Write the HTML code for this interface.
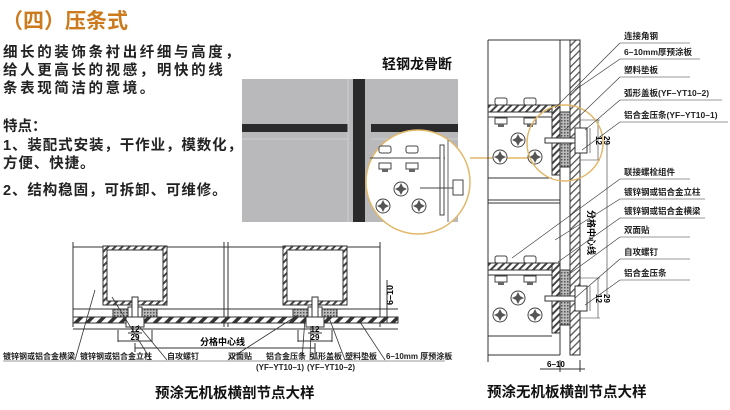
<!DOCTYPE html>
<html><head><meta charset="utf-8"><style>
html,body{margin:0;padding:0;background:#fff;width:730px;height:410px;overflow:hidden}
svg{display:block}
text{font-family:"Liberation Sans","Noto Sans CJK SC",sans-serif}
.b{font-weight:bold}
</style></head><body>
<svg width="730" height="410" viewBox="0 0 730 410" xmlns="http://www.w3.org/2000/svg">
<defs>
<pattern id="h" width="5" height="5" patternUnits="userSpaceOnUse" patternTransform="rotate(45)"><rect width="5" height="5" fill="#fff"/><rect width="2" height="5" fill="#444"/></pattern>
<pattern id="hl" width="5" height="5" patternUnits="userSpaceOnUse" patternTransform="rotate(45)"><rect width="5" height="5" fill="#fff"/><rect width="1.3" height="5" fill="#555"/></pattern>
<pattern id="hb" width="8" height="8" patternUnits="userSpaceOnUse" patternTransform="rotate(45)"><rect width="8" height="8" fill="#fff"/><rect width="3.5" height="8" fill="#333"/></pattern>
<pattern id="d" width="3" height="3" patternUnits="userSpaceOnUse"><rect width="3" height="3" fill="#bbb"/><rect width="1.5" height="1.5" fill="#555"/></pattern>
<g id="cr"><circle r="7" fill="#fff" stroke="#444" stroke-width="1"/><path d="M0,-6 L2,-2 6,0 2,2 0,6 -2,2 -6,0 -2,-2Z" fill="#555"/></g>
<g id="bh"><rect x="-6" y="-7" width="12" height="7" rx="2" fill="#fff" stroke="#444"/></g>
<g id="nut"><rect x="-6" y="0" width="12" height="6" fill="#fff" stroke="#444"/><rect x="-3" y="6" width="6" height="3" fill="#666"/></g>
</defs>

<text x="2" y="28" font-size="21" class="b" fill="#cc7a1c">（四）压条式</text>
<g font-size="14.5" class="b" fill="#222" letter-spacing="2.6">
<text x="3" y="57">细长的装饰条衬出纤细与高度，</text>
<text x="3" y="75">给人更高长的视感，明快的线</text>
<text x="3" y="93">条表现简洁的意境。</text>
<text x="3" y="131" letter-spacing="0">特点：</text>
<text x="3" y="150" letter-spacing="0.9">1、装配式安装，干作业，模数化，</text>
<text x="3" y="168" letter-spacing="0.9">方便、快捷。</text>
<text x="3" y="195" letter-spacing="0.9">2、结构稳固，可拆卸、可维修。</text>
</g>

<text x="382" y="69" font-size="14" class="b" fill="#111">轻钢龙骨断</text>
<rect x="242" y="79" width="216" height="143" fill="#b9b9bb"/>
<rect x="353" y="79" width="12" height="143" fill="#2a2a2a"/>
<rect x="242" y="124" width="106" height="8" fill="#2a2a2a"/>
<rect x="371" y="124" width="87" height="8" fill="#2a2a2a"/>
<line x1="348" y1="79" x2="348" y2="222" stroke="#d0d0d0"/>
<line x1="242" y1="139" x2="348" y2="139" stroke="#d0d0d0"/>
<line x1="371" y1="139" x2="458" y2="139" stroke="#d0d0d0"/>
<circle cx="418" cy="182" r="52" fill="#fff" stroke="#e2b768" stroke-width="1.5"/>
<line x1="370" y1="158" x2="445" y2="158" stroke="#444"/>
<rect x="440" y="145" width="4" height="70" fill="#fff" stroke="#444"/>
<use href="#bh" x="385" y="153"/><use href="#bh" x="412" y="153"/>
<use href="#nut" x="385" y="163"/><use href="#nut" x="412" y="163"/>
<use href="#cr" x="401" y="189"/><use href="#cr" x="383" y="206"/><use href="#cr" x="419" y="206"/>
<line x1="420" y1="188" x2="455" y2="188" stroke="#444"/>
<rect x="453" y="180" width="10" height="15" fill="#fff" stroke="#444"/>
<line x1="448" y1="140" x2="448" y2="222" stroke="#666"/>
<line x1="470" y1="158" x2="528" y2="158" stroke="#e2b768" stroke-width="1.5"/>

<g stroke="#333" stroke-width="1" fill="none">
<line x1="73" y1="242" x2="73" y2="327"/>
<line x1="380" y1="242" x2="380" y2="327"/>
<line x1="224" y1="242" x2="224" y2="327"/><line x1="228" y1="242" x2="228" y2="327"/>
<line x1="73" y1="247" x2="380" y2="247"/>
<line x1="73" y1="309" x2="398" y2="309"/>
<line x1="73" y1="329" x2="398" y2="329"/>
</g>
<rect x="73" y="317" width="325" height="6" fill="url(#hb)" stroke="#333"/>
<rect x="103" y="246" width="64" height="59" fill="url(#h)" stroke="#333"/>
<rect x="107" y="250" width="56" height="51" fill="#fff" stroke="#333"/>
<rect x="283" y="246" width="64" height="59" fill="url(#h)" stroke="#333"/>
<rect x="287" y="250" width="56" height="51" fill="#fff" stroke="#333"/>
<g id="fx">
<rect x="113" y="309" width="15" height="8" fill="url(#d)" stroke="#333"/>
<rect x="142" y="309" width="15" height="8" fill="url(#d)" stroke="#333"/>
<rect x="128" y="307" width="14" height="10" fill="#fff" stroke="#333"/>
<rect x="132" y="297" width="6" height="22" fill="#fff" stroke="#333"/>
<rect x="126" y="317" width="18" height="10" fill="#fff" stroke="#333"/>
<line x1="118" y1="330" x2="118" y2="342" stroke="#333"/><line x1="152" y1="330" x2="152" y2="342" stroke="#333"/>
<line x1="128" y1="333" x2="142" y2="333" stroke="#333"/><line x1="118" y1="341" x2="152" y2="341" stroke="#333"/>
<text x="135" y="332" font-size="8" text-anchor="middle" class="b">12</text>
<text x="135" y="340" font-size="8" text-anchor="middle" class="b">29</text>
</g>
<use href="#fx" x="180"/>
<line x1="135" y1="343" x2="135" y2="352" stroke="#333"/>
<line x1="315" y1="343" x2="315" y2="352" stroke="#333"/>
<line x1="135" y1="348" x2="315" y2="348" stroke="#333"/>
<text x="200" y="345" font-size="9" class="b">分格中心线</text>
<text transform="translate(393,305) rotate(-90)" font-size="9" class="b">6–10</text>
<line x1="387" y1="280" x2="387" y2="323" stroke="#333"/>
<g stroke="#333" stroke-width="0.8">
<line x1="75" y1="360" x2="95" y2="290"/>
<line x1="151" y1="360" x2="112" y2="297"/>
<line x1="167" y1="360" x2="138" y2="325"/>
<line x1="228" y1="360" x2="298" y2="315"/>
<line x1="302" y1="360" x2="305" y2="318"/>
<line x1="310" y1="360" x2="311" y2="326"/>
<line x1="345" y1="360" x2="328" y2="315"/>
<line x1="385" y1="360" x2="360" y2="322"/>
<line x1="3" y1="361" x2="445" y2="361" stroke-width="0.5"/>
</g>
<g font-size="8" class="b" fill="#222">
<text x="3" y="359">镀锌钢或铝合金横梁</text>
<text x="80" y="359">镀锌钢或铝合金立柱</text>
<text x="167" y="359">自攻螺钉</text>
<text x="228" y="359">双面贴</text>
<text x="266" y="359">铝合金压条</text>
<text x="256" y="370">(YF–YT10–1)</text>
<text x="310" y="359">弧形盖板</text>
<text x="307" y="370">(YF–YT10–2)</text>
<text x="345" y="359">塑料垫板</text>
<text x="386" y="359">6–10mm 厚预涂板</text>
</g>
<text x="155" y="398" font-size="14.5" class="b" fill="#111">预涂无机板横剖节点大样</text>

<g stroke="#333" fill="none">
<line x1="488" y1="40" x2="488" y2="355"/>
<line x1="560" y1="40" x2="560" y2="355"/>
<line x1="488" y1="40" x2="570" y2="40"/>
<line x1="488" y1="200" x2="560" y2="200"/>
<line x1="488" y1="203" x2="560" y2="203"/>
<line x1="488" y1="355" x2="560" y2="355"/>
<line x1="488" y1="355" x2="488" y2="362"/>
</g>
<rect x="570" y="40" width="10" height="315" fill="url(#hl)" stroke="#333"/>
<g id="br">
<rect x="488" y="105" width="69" height="7" fill="url(#h)" stroke="#333"/>
<line x1="488" y1="117" x2="552" y2="117" stroke="#333"/>
<line x1="488" y1="178" x2="552" y2="178" stroke="#333"/>
<rect x="552" y="105" width="8" height="70" fill="url(#h)" stroke="#333"/>
<rect x="560" y="112" width="10" height="55" fill="url(#d)" stroke="#333"/>
<use href="#bh" x="501" y="105"/><use href="#bh" x="530" y="105"/>
<use href="#nut" x="501" y="118"/><use href="#nut" x="530" y="118"/>
<use href="#cr" x="518" y="140"/><use href="#cr" x="500" y="157"/><use href="#cr" x="535" y="157"/>
<rect x="545" y="138" width="30" height="5" fill="#fff" stroke="#333"/>
<rect x="575" y="128" width="12" height="25" fill="#fff" stroke="#333"/>
<line x1="580" y1="120" x2="600" y2="120" stroke="#333" stroke-width=".6"/>
<line x1="580" y1="160" x2="600" y2="160" stroke="#333" stroke-width=".6"/>
<line x1="590" y1="128" x2="590" y2="153" stroke="#333" stroke-width=".6"/>
<line x1="598" y1="120" x2="598" y2="160" stroke="#333" stroke-width=".6"/>
<text transform="translate(596,136) rotate(90)" font-size="8" class="b">12</text>
<text transform="translate(604,136) rotate(90)" font-size="8" class="b">29</text>
</g>
<use href="#br" y="158"/>
<line x1="607" y1="140" x2="607" y2="298" stroke="#333" stroke-width=".6"/>
<text transform="translate(588,210) rotate(90)" font-size="9" class="b">分格中心线</text>
<line x1="560" y1="360" x2="560" y2="372" stroke="#333"/><line x1="580" y1="360" x2="580" y2="372" stroke="#333"/>
<line x1="540" y1="369" x2="585" y2="369" stroke="#333"/>
<text x="547" y="367" font-size="8" class="b">6–10</text>
<circle cx="565" cy="143" r="38" fill="none" stroke="#e2b768" stroke-width="1.5"/>
<g font-size="8.5" class="b" fill="#222">
<text x="624" y="39">连接角钢</text>
<text x="624" y="55">6–10mm厚预涂板</text>
<text x="624" y="73">塑料垫板</text>
<text x="624" y="96">弧形盖板(YF–YT10–2)</text>
<text x="624" y="118">铝合金压条(YF–YT10–1)</text>
<text x="624" y="175">联接螺栓组件</text>
<text x="624" y="195">镀锌钢或铝合金立柱</text>
<text x="624" y="214">镀锌钢或铝合金横梁</text>
<text x="624" y="233">双面贴</text>
<text x="624" y="255">自攻螺钉</text>
<text x="624" y="276">铝合金压条</text>
</g>
<g stroke="#333" stroke-width=".6">
<line x1="620" y1="43" x2="690" y2="43"/><line x1="620" y1="43" x2="555" y2="108"/>
<line x1="620" y1="59" x2="700" y2="59"/><line x1="620" y1="59" x2="575" y2="90"/>
<line x1="620" y1="77" x2="690" y2="77"/><line x1="620" y1="77" x2="565" y2="130"/>
<line x1="620" y1="100" x2="722" y2="100"/><line x1="620" y1="100" x2="585" y2="130"/>
<line x1="620" y1="122" x2="728" y2="122"/><line x1="620" y1="122" x2="582" y2="150"/>
<line x1="620" y1="179" x2="690" y2="179"/><line x1="620" y1="179" x2="512" y2="258"/>
<line x1="620" y1="199" x2="705" y2="199"/><line x1="620" y1="199" x2="555" y2="240"/>
<line x1="620" y1="218" x2="705" y2="218"/><line x1="620" y1="218" x2="558" y2="262"/>
<line x1="620" y1="237" x2="690" y2="237"/><line x1="620" y1="237" x2="568" y2="275"/>
<line x1="620" y1="259" x2="690" y2="259"/><line x1="620" y1="259" x2="575" y2="298"/>
<line x1="620" y1="280" x2="690" y2="280"/><line x1="620" y1="280" x2="585" y2="305"/>
</g>
<text x="487" y="397" font-size="14.5" class="b" fill="#111">预涂无机板横剖节点大样</text>
</svg>
</body></html>
